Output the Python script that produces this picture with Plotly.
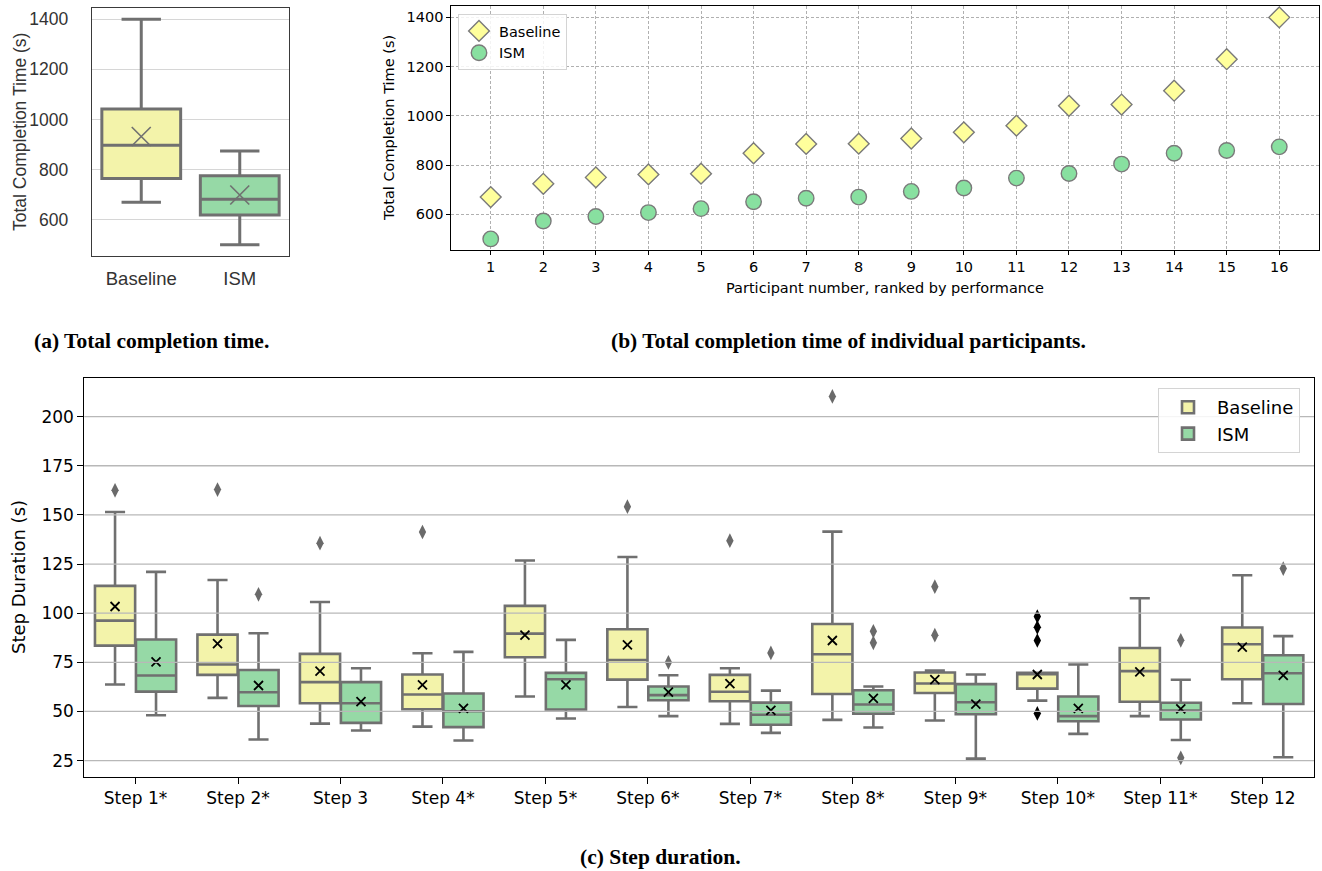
import numpy as np
import plotly.graph_objects as go

# ---------------- data ----------------
groups = ["Baseline", "ISM"]
participants = list(range(1, 17))
baseline_total = [670, 724, 750, 762, 765, 848, 886, 887, 908, 933, 960, 1041, 1046, 1102, 1230, 1400]
ism_total = [500, 573, 591, 607, 623, 651, 665, 670, 693, 707, 747, 766, 804, 848, 859, 874]
total_yticks = [600, 800, 1000, 1200, 1400]

steps = ["Step 1*", "Step 2*", "Step 3", "Step 4*", "Step 5*", "Step 6*",
         "Step 7*", "Step 8*", "Step 9*", "Step 10*", "Step 11*", "Step 12"]

base_lo = [63.7, 56.9, 43.8, 42.3, 57.6, 52.3, 43.7, 45.7, 45.4, 55.5, 47.6, 54.2]
base_q1 = [83.5, 68.6, 54.2, 51.1, 77.6, 66.2, 55.2, 58.9, 59.4, 61.6, 54.9, 66.4]
base_med = [96.2, 73.9, 64.9, 58.6, 89.6, 76.2, 60.0, 79.1, 64.2, 68.9, 70.5, 84.2]
base_q3 = [113.9, 89.1, 79.3, 68.8, 103.7, 91.8, 68.6, 94.5, 69.8, 69.6, 82.3, 92.7]
base_hi = [151.5, 116.9, 105.7, 79.6, 126.8, 128.6, 72.0, 141.5, 70.8, 69.6, 107.6, 119.3]
base_mean = [103.4, 84.5, 70.5, 63.5, 88.8, 83.9, 64.2, 86.1, 66.2, 68.8, 70.1, 82.7]
base_out_step = [0, 1, 2, 3, 5, 6, 7, 8, 8, 9, 9, 9, 9]
base_out_val = [162.5, 162.9, 135.6, 141.3, 154.2, 136.9, 210.3, 113.5, 88.8, 98.3, 92.8, 86.1, 49.0]

ism_lo = [48.1, 35.7, 40.3, 35.2, 46.4, 47.6, 39.1, 41.8, 26.0, 38.6, 35.5, 26.7]
ism_q1 = [60.1, 52.8, 44.2, 42.0, 51.0, 55.7, 43.2, 48.8, 48.6, 45.0, 45.9, 53.8]
ism_med = [68.3, 59.8, 54.2, 50.1, 66.4, 58.3, 48.3, 53.5, 54.7, 47.6, 50.4, 69.4]
ism_q3 = [86.6, 71.1, 64.9, 59.1, 69.6, 62.7, 54.5, 60.8, 63.9, 57.6, 54.4, 78.6]
ism_hi = [121.0, 89.8, 72.0, 80.3, 86.4, 68.4, 60.6, 62.7, 68.8, 73.9, 66.1, 88.3]
ism_mean = [75.2, 63.2, 55.0, 51.6, 63.5, 59.8, 50.6, 56.6, 53.7, 51.6, 51.3, 68.3]
ism_out_step = [1, 5, 6, 7, 7, 10, 10, 11]
ism_out_val = [109.6, 75.0, 79.8, 90.8, 84.9, 86.2, 26.4, 122.7]

step_yticks = [25, 50, 75, 100, 125, 150, 175, 200]

# ---------------- style ----------------
GRAY = "#707070"
BOX_Y = "#f3f3aa"
BOX_G = "#96d9a6"
PT_Y = "#ffff9c"
PT_G = "#88e0a0"
SANS = "DejaVu Sans"
ARIAL = "Liberation Sans"
SERIF = "Liberation Serif"
W, H = 1322, 871


def px_x(a, b):
    return [a / W, b / W]


def px_y(top, bottom):
    return [1 - bottom / H, 1 - top / H]


def box_stats(v):
    a = np.asarray(v, dtype=float)
    q1, med, q3 = np.percentile(a, [25, 50, 75])
    iqr = q3 - q1
    lo = a[a >= q1 - 1.5 * iqr].min()
    hi = a[a <= q3 + 1.5 * iqr].max()
    return q1, med, q3, lo, hi, a.mean()


fig = go.Figure()

# ---------------- panel (a) ----------------
means_a = []
for name, vals, col in [(groups[0], baseline_total, BOX_Y), (groups[1], ism_total, BOX_G)]:
    q1, med, q3, lo, hi, mn = box_stats(vals)
    means_a.append(mn)
    fig.add_trace(go.Box(
        x=[name], q1=[q1], median=[med], q3=[q3], lowerfence=[lo], upperfence=[hi],
        fillcolor=col, line=dict(color=GRAY, width=3), whiskerwidth=0.5, width=0.8,
        boxpoints=False, showlegend=False, xaxis="x", yaxis="y", hoverinfo="skip"))
fig.add_trace(go.Scatter(
    x=groups, y=means_a, mode="markers", showlegend=False, xaxis="x", yaxis="y",
    marker=dict(symbol="x-thin", size=19, color=GRAY, line=dict(color=GRAY, width=1.6))))

# ---------------- panel (b) ----------------
fig.add_trace(go.Scatter(
    x=participants, y=baseline_total, mode="markers", name="Baseline", xaxis="x2", yaxis="y2",
    legend="legend",
    marker=dict(symbol="diamond", size=16, color=PT_Y, line=dict(color="#7a7a7a", width=1.4))))
fig.add_trace(go.Scatter(
    x=participants, y=ism_total, mode="markers", name="ISM", xaxis="x2", yaxis="y2",
    legend="legend",
    marker=dict(symbol="circle", size=15.5, color=PT_G, line=dict(color="#7a7a7a", width=1.4))))

# ---------------- panel (c) ----------------
OFF = 0.2
pos_b = [i - OFF for i in range(len(steps))]
pos_i = [i + OFF for i in range(len(steps))]
fig.add_trace(go.Box(
    x=pos_b, q1=base_q1, median=base_med, q3=base_q3, lowerfence=base_lo, upperfence=base_hi,
    name="Baseline", fillcolor=BOX_Y, line=dict(color=GRAY, width=2.6), whiskerwidth=0.5,
    width=0.392, boxpoints=False, xaxis="x3", yaxis="y3", legend="legend2"))
fig.add_trace(go.Box(
    x=pos_i, q1=ism_q1, median=ism_med, q3=ism_q3, lowerfence=ism_lo, upperfence=ism_hi,
    name="ISM", fillcolor=BOX_G, line=dict(color=GRAY, width=2.6), whiskerwidth=0.5,
    width=0.392, boxpoints=False, xaxis="x3", yaxis="y3", legend="legend2"))

# outliers
base_out_col = ["black" if steps[s] == "Step 10*" else "#6a6a6a" for s in base_out_step]
fig.add_trace(go.Scatter(
    x=[s - OFF for s in base_out_step], y=base_out_val, mode="markers", showlegend=False,
    xaxis="x3", yaxis="y3",
    marker=dict(symbol="diamond-tall", size=10.5, color=base_out_col, line=dict(width=0))))
fig.add_trace(go.Scatter(
    x=[s + OFF for s in ism_out_step], y=ism_out_val, mode="markers", showlegend=False,
    xaxis="x3", yaxis="y3",
    marker=dict(symbol="diamond-tall", size=10.5, color="#6a6a6a", line=dict(width=0))))
# means
fig.add_trace(go.Scatter(
    x=pos_b + pos_i, y=base_mean + ism_mean, mode="markers", showlegend=False,
    xaxis="x3", yaxis="y3",
    marker=dict(symbol="x-thin", size=9, color="black", line=dict(color="black", width=1.8))))

# grid lines of panel (c) drawn above the box patches (as in matplotlib)
for v in step_yticks:
    fig.add_shape(type="line", xref="x3 domain", yref="y3", x0=0, x1=1, y0=v, y1=v,
                  line=dict(color="#b8b8b8", width=1.3), layer="above")

# ---------------- layout ----------------
fig.update_layout(
    width=W, height=H, margin=dict(l=0, r=0, t=0, b=0),
    paper_bgcolor="white", plot_bgcolor="white",
    boxmode="overlay",
    xaxis=dict(domain=px_x(92, 289), anchor="y", type="category", range=[-0.5, 1.5],
               showline=True, mirror=True, linecolor="#3a3a3a", linewidth=1.4,
               showgrid=False, ticks="", ticklabelstandoff=6,
               tickfont=dict(family=ARIAL, size=18.5, color="#333")),
    yaxis=dict(domain=px_y(8, 256), anchor="x", range=[455, 1445], tickvals=total_yticks,
               showline=True, mirror=True, linecolor="#3a3a3a", linewidth=1.4,
               showgrid=True, gridcolor="#d6d6d6", gridwidth=1.3, zeroline=False,
               ticks="", ticklabelstandoff=19,
               tickfont=dict(family=ARIAL, size=17.5, color="#333")),
    xaxis2=dict(domain=px_x(451.3, 1318.7), anchor="y2", range=[0.25, 16.75], tickvals=participants,
                showline=True, mirror=True, linecolor="black", linewidth=1,
                showgrid=True, gridcolor="#b0b0b0", gridwidth=0.8, griddash="3px,2px", zeroline=False,
                ticks="outside", ticklen=4, tickcolor="black",
                tickfont=dict(family=SANS, size=14.5, color="black")),
    yaxis2=dict(domain=px_y(6.3, 250), anchor="x2", range=[455, 1445], tickvals=total_yticks,
                showline=True, mirror=True, linecolor="black", linewidth=1,
                showgrid=True, gridcolor="#b0b0b0", gridwidth=0.8, griddash="3px,2px", zeroline=False,
                ticks="outside", ticklen=4, tickcolor="black",
                tickfont=dict(family=SANS, size=14.5, color="black")),
    xaxis3=dict(domain=px_x(84.3, 1314), anchor="y3", range=[-0.5, 11.5],
                tickvals=list(range(len(steps))), ticktext=steps,
                showline=True, mirror=True, linecolor="black", linewidth=1,
                showgrid=False, zeroline=False,
                ticks="outside", ticklen=6, tickcolor="black",
                tickfont=dict(family=SANS, size=17, color="black")),
    yaxis3=dict(domain=px_y(378.3, 776.7), anchor="x3", range=[16.8, 219.5], tickvals=step_yticks,
                showline=True, mirror=True, linecolor="black", linewidth=1,
                showgrid=False, zeroline=False,
                ticks="outside", ticklen=6, tickcolor="black",
                tickfont=dict(family=SANS, size=17, color="black")),
    legend=dict(x=458 / W, y=1 - 14 / H, xanchor="left", yanchor="top",
                bgcolor="rgba(255,255,255,0.85)", bordercolor="#d4d4d4", borderwidth=1,
                font=dict(family=SANS, size=14.5, color="black"), tracegroupgap=0),
    legend2=dict(x=1158 / W, y=1 - 388 / H, xanchor="left", yanchor="top",
                 bgcolor="rgba(255,255,255,0.85)", bordercolor="#d4d4d4", borderwidth=1,
                 itemwidth=48,
                 font=dict(family=SANS, size=18, color="black"), tracegroupgap=0),
    showlegend=True,
)

annotations = [
    # axis titles
    dict(text="Total Completion Time (s)", x=20 / W, y=1 - 132 / H, textangle=-90,
         font=dict(family=ARIAL, size=17.5, color="#333")),
    dict(text="Total Completion Time (s)", x=389 / W, y=1 - 128 / H, textangle=-90,
         font=dict(family=SANS, size=14.5, color="black")),
    dict(text="Participant number, ranked by performance", x=885 / W, y=1 - 287.5 / H,
         font=dict(family=SANS, size=14.5, color="black")),
    dict(text="Step Duration (s)", x=18 / W, y=1 - 577 / H, textangle=-90,
         font=dict(family=SANS, size=18, color="black")),
    # captions
    dict(text="<b>(a) Total completion time.</b>", x=151.5 / W, y=1 - 341 / H,
         font=dict(family=SERIF, size=21.5, color="black")),
    dict(text="<b>(b) Total completion time of individual participants.</b>", x=849 / W, y=1 - 341 / H,
         font=dict(family=SERIF, size=21.5, color="black")),
    dict(text="<b>(c) Step duration.</b>", x=660 / W, y=1 - 857 / H,
         font=dict(family=SERIF, size=21.5, color="black")),
]
for a in annotations:
    a.update(xref="paper", yref="paper", showarrow=False, xanchor="center", yanchor="middle")
fig.update_layout(annotations=annotations)

fig.write_html("out.html")
